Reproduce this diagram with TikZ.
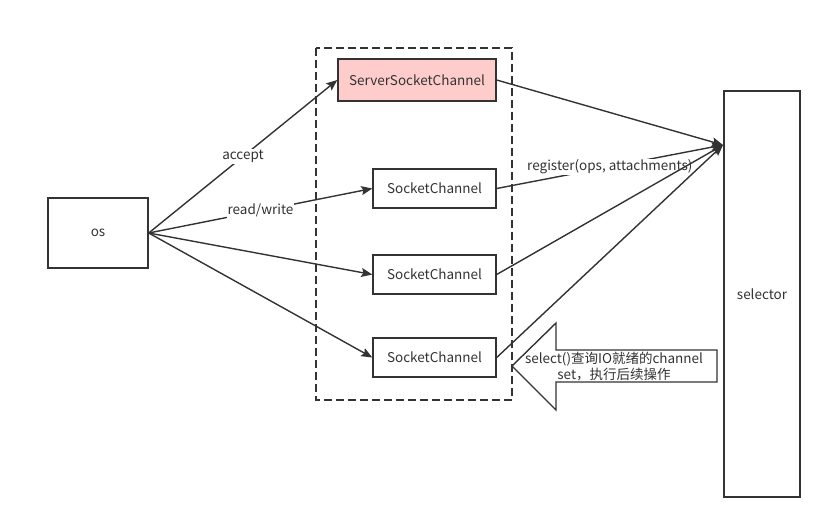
\documentclass[tikz,border=0pt]{standalone}
\usepackage{fontspec}
\setmainfont{Noto Sans CJK SC}
\usetikzlibrary{arrows.meta}
\definecolor{ink}{HTML}{333333}
\definecolor{pinkfill}{HTML}{FFCCCC}
\tikzset{
  box/.style={draw=ink, line width=1.4pt, fill=white, text=ink, font=\fontsize{13.5}{15}\selectfont, inner sep=0pt},
  link/.style={draw=ink, line width=1.4pt, -{Stealth[length=11pt,width=9pt,inset=2pt]}},
  tag/.style={fill=white, text=ink, font=\fontsize{13.5}{15}\selectfont, inner sep=1pt}
}
\begin{document}
\begin{tikzpicture}[x=1pt,y=-1pt]
\useasboundingbox (0,0) rectangle (832,530);
% channel group
\draw[ink, line width=1.4pt, dash pattern=on 8pt off 4pt] (316,48) rectangle (512,400);
% nodes
\node[box, minimum width=100pt, minimum height=70pt] (os) at (98,233) {os};
\node[box, fill=pinkfill, minimum width=158pt, minimum height=42pt] (ssc) at (417,80) {ServerSocketChannel};
\node[box, minimum width=123pt, minimum height=39pt] (sc1) at (434.5,188.5) {SocketChannel};
\node[box, minimum width=123pt, minimum height=39pt] (sc2) at (434.5,274.5) {SocketChannel};
\node[box, minimum width=123pt, minimum height=39pt] (sc3) at (434.5,357.5) {SocketChannel};
\node[box, minimum width=76pt, minimum height=406pt] (sel) at (762,294) {selector};
\coordinate (hub) at (723,145);
% os -> channels
\draw[link] (os.east) -- node[tag] {accept} (ssc.west);
\draw[link] (os.east) -- node[tag] {read/write} (sc1.west);
\draw[link] (os.east) -- (sc2.west);
\draw[link] (os.east) -- (sc3.west);
% channels -> selector
\draw[link] (ssc.east) -- (hub);
\draw[link] (sc1.east) -- node[tag] {register(ops, attachments)} (hub);
\draw[link] (sc2.east) -- (hub);
\draw[link] (sc3.east) -- (hub);
% select() hollow arrow
\draw[ink, line width=1.4pt, fill=white, line join=miter]
  (512,366) -- (556,323) -- (556,350) -- (717,350) -- (717,382) -- (556,382) -- (556,410) -- cycle;
\node[text=ink, font=\fontsize{13.5}{16}\selectfont, align=center, inner sep=0pt] (sellabel) at (614,367)
  {select()查询IO就绪的channel\\set，执行后续操作};
\end{tikzpicture}
\end{document}
